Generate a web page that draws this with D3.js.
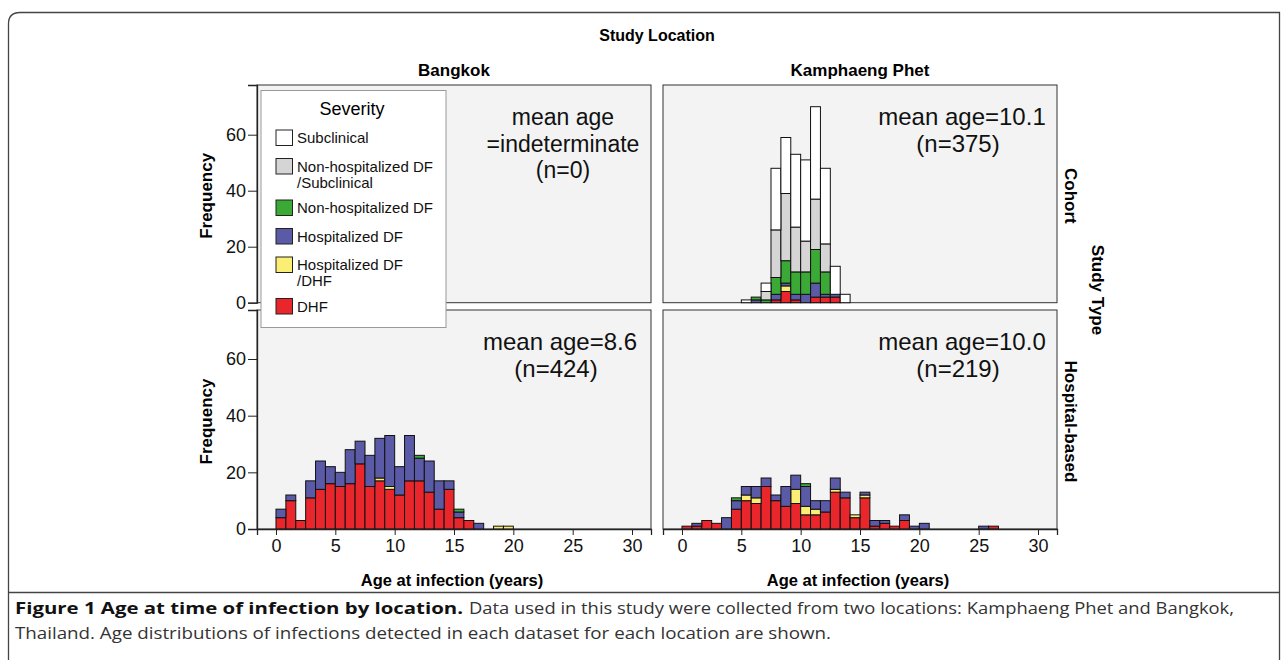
<!DOCTYPE html>
<html>
<head>
<meta charset="utf-8">
<script src="https://cdn.jsdelivr.net/npm/d3@7"></script>
<style>
  body { margin: 0; background: #fff; }
  svg { display: block; font-family: "Liberation Sans", Arial, Helvetica, sans-serif; }
</style>
</head>
<body>
<svg id="chart" width="1281" height="660"></svg>
<script>
// histogram bins are 10 months wide, starting at age 0
var binWidth = 5 / 6;

// stack order, bottom to top
var severityKeys = ["dhf", "hospDfDhf", "hospDf", "nonHospDf", "nonHospDfSub", "subclinical"];
var severityNames = ["DHF", "Hospitalized DF\n/DHF", "Hospitalized DF", "Non-hospitalized DF",
  "Non-hospitalized DF\n/Subclinical", "Subclinical"];
var severityColors = ["#e8262c", "#fbee74", "#5a5aa7", "#3ba936", "#d5d5d5", "#ffffff"];

var locations = ["Bangkok", "Kamphaeng Phet"];
var studyTypes = ["Cohort", "Hospital-based"];
var xTicks = [0, 5, 10, 15, 20, 25, 30];
var yTicks = [0, 20, 40, 60];

// Bangkok, cohort: no cases
var bkkCohortCounts = [];

// Kamphaeng Phet, cohort (per bin)
var kppCohortDHF       = [0,0,0,0,0,0,0,0,0,1,4,1,0,2,2,2,0];
var kppCohortHospDfDhf = [0,0,0,0,0,0,0,0,0,0,2,0,0,0,0,0,0];
var kppCohortHospDF    = [0,0,0,0,0,0,0,1,0,2,1,2,3,5,1,1,0];
var kppCohortNonHospDF = [0,0,0,0,0,0,0,1,1,6,8,8,8,12,8,0,0];
var kppCohortNonHospSub= [0,0,0,0,0,0,0,0,3,17,24,16,11,18,10,0,0];
var kppCohortSubclin   = [0,0,0,0,0,0,1,0,3,22,20,26,29,33,27,10,3];

// Bangkok, hospital-based
var bkkHospDHF       = [4,10,3,11,14,16,15,16,23,15,17,14,12,17,17,13,7,14,4,3,0,0,0,0];
var bkkHospHospDfDhf = [0,0,0,0,0,0,0,0,0,0,1,1,0,0,0,0,0,0,0,0,0,0,1,1];
var bkkHospHospDF    = [3,2,0,6,10,6,5,12,8,11,14,18,10,16,8,11,10,3,2,0,2,0,0,0];
var bkkHospNonHospDF = [0,0,0,0,0,0,0,0,0,0,0,0,0,0,1,0,0,0,1,0,0,0,0,0];

// Kamphaeng Phet, hospital-based
var kppHospDHF       = [1,1,3,2,0,7,10,9,15,10,8,9,5,5,6,13,11,4,11,1,2,1,3,0,0,0,0,0,0,0,0,1];
var kppHospHospDfDhf = [0,0,0,0,0,0,2,2,0,0,0,5,3,2,0,1,0,1,1,0,0,0,0,0,0,0,0,0,0,0,0,0];
var kppHospHospDF    = [0,1,0,0,4,3,3,4,3,2,7,5,7,3,4,4,2,0,1,2,1,0,2,1,2,0,0,0,0,0,1,0];
var kppHospNonHospDF = [0,0,0,0,0,1,0,0,0,0,0,0,1,0,0,0,0,0,0,0,0,0,0,0,0,0,0,0,0,0,0,0];

var notes = [
  ["mean age", "=indeterminate", "(n=0)"],
  ["mean age=10.1", "(n=375)"],
  ["mean age=8.6", "(n=424)"],
  ["mean age=10.0", "(n=219)"]
];

function toTable(series) {
  var n = d3.max(series, function (s) { return s.length; }) || 0;
  return d3.range(n).map(function (i) {
    var row = { bin: i };
    severityKeys.forEach(function (k, j) { row[k] = (series[j] && series[j][i]) || 0; });
    return row;
  });
}

var panels = [
  { col: 0, row: 0, table: toTable([bkkCohortCounts]), note: notes[0], noteX: 306, noteSize: 23 },
  { col: 1, row: 0, table: toTable([kppCohortDHF, kppCohortHospDfDhf, kppCohortHospDF,
      kppCohortNonHospDF, kppCohortNonHospSub, kppCohortSubclin]), note: notes[1], noteX: 299, noteSize: 24 },
  { col: 0, row: 1, table: toTable([bkkHospDHF, bkkHospHospDfDhf, bkkHospHospDF, bkkHospNonHospDF]),
    note: notes[2], noteX: 303, noteSize: 24 },
  { col: 1, row: 1, table: toTable([kppHospDHF, kppHospHospDfDhf, kppHospHospDF, kppHospNonHospDF]),
    note: notes[3], noteX: 299, noteSize: 24 }
];

var colX = [257, 663];
var panelW = 394;
var rowY = [85, 310];
var rowH = [217.7, 219];
var rowMax = [77.75, 77.3];

var svg = d3.select("#chart");

// outer figure frame
svg.append("path")
  .attr("d", "M8.5,700 L8.5,24 Q8.5,12.5 20,12.5 L1279.5,12.5 L1279.5,700")
  .attr("fill", "none").attr("stroke", "#444").attr("stroke-width", 1.3);
svg.append("line")
  .attr("x1", 8.5).attr("x2", 1279.5).attr("y1", 592.5).attr("y2", 592.5)
  .attr("stroke", "#444").attr("stroke-width", 1.3);

svg.append("text").attr("x", 657).attr("y", 41).attr("text-anchor", "middle")
  .attr("font-size", 16).attr("font-weight", "bold").text("Study Location");

locations.forEach(function (loc, i) {
  svg.append("text").attr("x", colX[i] + panelW / 2).attr("y", 76).attr("text-anchor", "middle")
    .attr("font-size", 17).attr("font-weight", "bold").text(loc);
});

var x = d3.scaleLinear().domain([-1.6, 31.6]).range([0, panelW]);
var stack = d3.stack().keys(severityKeys);

panels.forEach(function (p) {
  var y = d3.scaleLinear().domain([0, rowMax[p.row]]).range([rowH[p.row], 0]);
  var g = svg.append("g").attr("transform", "translate(" + colX[p.col] + "," + rowY[p.row] + ")");

  g.append("rect").attr("width", panelW).attr("height", rowH[p.row])
    .attr("fill", "#f3f3f3").attr("stroke", "#333").attr("stroke-width", 1);

  var layers = stack(p.table);
  g.selectAll("g.layer").data(layers).join("g")
    .attr("class", "layer")
    .attr("fill", function (d, i) { return severityColors[i]; })
    .selectAll("rect")
    .data(function (d) { return d.filter(function (s) { return s[1] > s[0]; }); })
    .join("rect")
    .attr("x", function (d) { return x(d.data.bin * binWidth); })
    .attr("width", function (d) { return x((d.data.bin + 1) * binWidth) - x(d.data.bin * binWidth); })
    .attr("y", function (d) { return y(d[1]); })
    .attr("height", function (d) { return y(d[0]) - y(d[1]); })
    .attr("stroke", "#111").attr("stroke-width", 1);

  var t = g.append("text").attr("text-anchor", "middle").attr("font-size", p.noteSize).attr("fill", "#111");
  p.note.forEach(function (line, i) {
    t.append("tspan").attr("x", p.noteX - (i > 0 && p.note.length === 2 ? 4 : 0))
      .attr("y", 40 + i * 26.5).text(line);
  });

  if (p.col === 0) {
    var ya = g.append("g").call(d3.axisLeft(y).tickValues(yTicks).tickSize(9).tickPadding(2));
    ya.select(".domain").attr("stroke", "#222").attr("stroke-width", 1.3);
    ya.selectAll(".tick line").attr("stroke", "#222");
    ya.selectAll("text").attr("font-size", 18).attr("font-family", "Liberation Sans, Arial, sans-serif")
      .attr("fill", "#111");
    g.append("text").attr("transform", "translate(-45," + (rowH[p.row] / 2 + 2) + ") rotate(-90)")
      .attr("text-anchor", "middle").attr("font-size", 17).attr("font-weight", "bold").text("Frequency");
  }
  if (p.row === 1) {
    var xa = g.append("g").attr("transform", "translate(0," + rowH[p.row] + ")")
      .call(d3.axisBottom(x).tickValues(xTicks).tickSize(6).tickPadding(4));
    xa.select(".domain").attr("stroke", "#222").attr("stroke-width", 1.3);
    xa.selectAll(".tick line").attr("stroke", "#222");
    xa.selectAll("text").attr("font-size", 18).attr("font-family", "Liberation Sans, Arial, sans-serif")
      .attr("fill", "#111");
    g.append("text").attr("x", panelW / 2 - 2).attr("y", rowH[p.row] + 57).attr("text-anchor", "middle")
      .attr("font-size", 16.5).attr("font-weight", "bold").text("Age at infection (years)");
  }
  if (p.col === 1) {
    g.append("text").attr("transform", "translate(" + (panelW + 8) + "," + (rowH[p.row] / 2 + 2) + ") rotate(90)")
      .attr("text-anchor", "middle").attr("font-size", 17).attr("font-weight", "bold")
      .text(studyTypes[p.row]);
  }
});

svg.append("text").attr("transform", "translate(1092,290) rotate(90)").attr("text-anchor", "middle")
  .attr("font-size", 17).attr("font-weight", "bold").text("Study Type");

// legend
var leg = svg.append("g").attr("transform", "translate(261,90.5)");
leg.append("rect").attr("width", 185).attr("height", 237).attr("fill", "#fff")
  .attr("stroke", "#999").attr("stroke-width", 1);
leg.append("text").attr("x", 91).attr("y", 24).attr("text-anchor", "middle")
  .attr("font-size", 18).text("Severity");
var entries = severityKeys.map(function (k, i) {
  return { name: severityNames[i], color: severityColors[i] };
}).reverse();
var ey = 39.5;
entries.forEach(function (e) {
  var lines = e.name.split("\n");
  var eg = leg.append("g").attr("transform", "translate(15," + ey + ")");
  eg.append("rect").attr("width", 16.5).attr("height", 15.5).attr("fill", e.color)
    .attr("stroke", "#222").attr("stroke-width", 1);
  var tx = eg.append("text").attr("font-size", 15).attr("fill", "#111");
  lines.forEach(function (l, i) {
    tx.append("tspan").attr("x", 21).attr("y", 13 + i * 16).text(l);
  });
  ey += 28.5 + (lines.length - 1) * 13;
});

// caption
var capFont = "'Open Sans', 'Liberation Sans', sans-serif";
svg.append("text").attr("x", 15).attr("y", 614).attr("font-size", 16).attr("font-weight", "bold")
  .attr("font-family", capFont).attr("fill", "#111")
  .attr("textLength", 448).attr("lengthAdjust", "spacingAndGlyphs")
  .text("Figure 1 Age at time of infection by location.");
svg.append("text").attr("x", 469).attr("y", 614).attr("font-size", 16)
  .attr("font-family", capFont).attr("fill", "#333")
  .attr("textLength", 765).attr("lengthAdjust", "spacingAndGlyphs")
  .text("Data used in this study were collected from two locations: Kamphaeng Phet and Bangkok,");
svg.append("text").attr("x", 15).attr("y", 639).attr("font-size", 16)
  .attr("font-family", capFont).attr("fill", "#333")
  .attr("textLength", 816).attr("lengthAdjust", "spacingAndGlyphs")
  .text("Thailand. Age distributions of infections detected in each dataset for each location are shown.");
</script>
</body>
</html>
